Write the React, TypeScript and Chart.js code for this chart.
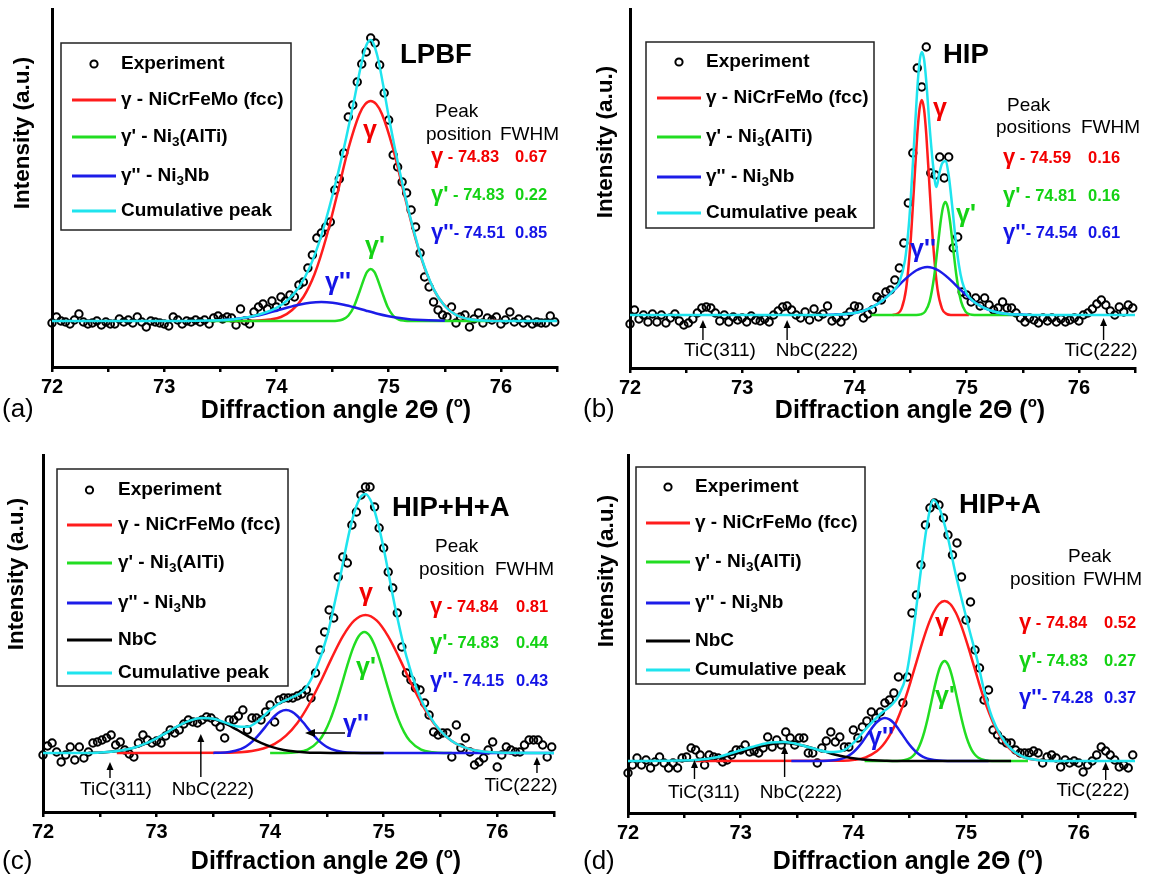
import React, { useEffect, useRef } from "react";
import { Chart, registerables } from "chart.js";
Chart.register(...registerables);

// ---------------- DATA ----------------
type Pt = [number, number];

// diffraction angles of the measured points (deg 2Theta)
const angles = [
  72.00, 72.04, 72.08, 72.12, 72.16, 72.20, 72.24, 72.28, 72.32, 72.36,
  72.40, 72.44, 72.48, 72.52, 72.56, 72.60, 72.64, 72.68, 72.72, 72.76,
  72.80, 72.84, 72.88, 72.92, 72.96, 73.00, 73.04, 73.08, 73.12, 73.16,
  73.20, 73.24, 73.28, 73.32, 73.36, 73.40, 73.44, 73.48, 73.52, 73.56,
  73.60, 73.64, 73.68, 73.72, 73.76, 73.80, 73.84, 73.88, 73.92, 73.96,
  74.00, 74.04, 74.08, 74.12, 74.16, 74.20, 74.24, 74.28, 74.32, 74.36,
  74.40, 74.44, 74.48, 74.52, 74.56, 74.60, 74.64, 74.68, 74.72, 74.76,
  74.80, 74.84, 74.88, 74.92, 74.96, 75.00, 75.04, 75.08, 75.12, 75.16,
  75.20, 75.24, 75.28, 75.32, 75.36, 75.40, 75.44, 75.48, 75.52, 75.56,
  75.60, 75.64, 75.68, 75.72, 75.76, 75.80, 75.84, 75.88, 75.92, 75.96,
  76.00, 76.04, 76.08, 76.12, 76.16, 76.20, 76.24, 76.28, 76.32, 76.36,
  76.40, 76.44, 76.48,
];

const tickLabels = [72, 73, 74, 75, 76];

// (a) LPBF – experiment intensities (a.u.)
const expA = [
  44, 50, 46, 45, 43, 47, 53, 45, 43, 44,
  46, 42, 45, 43, 43, 48, 45, 47, 44, 50,
  45, 40, 46, 45, 44, 43, 41, 50, 47, 43,
  46, 45, 47, 45, 47, 43, 49, 51, 48, 50,
  49, 42, 58, 46, 43, 55, 60, 63, 58, 66,
  60, 70, 66, 72, 70, 82, 85, 99, 112, 129,
  134, 140, 145, 177, 188, 214, 250, 262, 285, 303,
  315, 329, 324, 302, 274, 247, 212, 200, 185, 174,
  157, 140, 114, 90, 80, 65, 57, 52, 50, 60,
  44, 50, 52, 40, 48, 54, 44, 49, 47, 50,
  43, 47, 55, 45, 48, 44, 47, 43, 45, 44,
  44, 51, 45,
];
const cumA: Pt[] = [
  [72, 46], [73.2, 46], [73.4, 46.4], [73.6, 47.6], [73.8, 51.1], [74.0, 59.1], [74.1, 67], [74.2, 79.8],
  [74.3, 100.6], [74.4, 131.5], [74.5, 172], [74.6, 218.4], [74.7, 271.3], [74.75, 299.8], [74.8, 321.5],
  [74.84, 327], [74.9, 310.8], [74.95, 282.4], [75.0, 250.6], [75.1, 194.8], [75.2, 146.4], [75.3, 106.5],
  [75.4, 78.1], [75.5, 61], [75.6, 52.2], [75.7, 48.3], [75.8, 46.7], [76.0, 46], [76.5, 46],
];
const redA: Pt[] = [
  [73.6, 46], [73.84, 46.5], [73.94, 47.5], [74.04, 50], [74.14, 57], [74.24, 70], [74.34, 93], [74.44, 128],
  [74.54, 172], [74.64, 218], [74.74, 253], [74.79, 262.7], [74.84, 266], [74.89, 262.7], [74.94, 253],
  [75.04, 218], [75.14, 172], [75.24, 128], [75.34, 93], [75.44, 70], [75.54, 57], [75.64, 50], [75.74, 47.5],
  [75.84, 46.5], [76.0, 46],
];
const greenA: Pt[] = [
  [73.4, 46], [74.44, 46], [74.54, 46.3], [74.59, 47.5], [74.64, 51.3], [74.69, 60.3], [74.74, 75.3],
  [74.79, 91], [74.81, 95.4], [74.84, 98], [74.87, 95.4], [74.89, 91], [74.94, 75.3], [74.99, 60.3],
  [75.04, 51.3], [75.09, 47.5], [75.14, 46.3], [75.2, 46], [75.9, 46],
];
const blueA: Pt[] = [
  [73.5, 46.6], [73.6, 47.6], [73.7, 48.9], [73.8, 50.8], [73.9, 53.3], [74.0, 56.3], [74.1, 59.5], [74.2, 62.3],
  [74.3, 64.3], [74.4, 65], [74.5, 64.3], [74.6, 62.3], [74.7, 59.5], [74.8, 56.3], [74.9, 53.3], [75.0, 50.8],
  [75.1, 48.9], [75.2, 47.6], [75.3, 46.9], [75.5, 46.2],
];
const peakPosA = ["74.83", "74.83", "74.51"];
const fwhmA = ["0.67", "0.22", "0.85"];

// (b) HIP
const expB = [
  44, 58, 49, 53, 46, 54, 46, 53, 45, 50,
  54, 47, 43, 45, 49, 55, 60, 61, 60, 55,
  47, 53, 46, 51, 48, 50, 46, 52, 48, 47,
  49, 46, 53, 57, 61, 62, 58, 53, 50, 56,
  48, 59, 51, 54, 62, 47, 50, 46, 52, 56,
  62, 61, 50, 54, 58, 71, 68, 76, 78, 88,
  100, 125, 165, 215, 300, 281, 321, 195, 193, 211,
  190, 211, 120, 131, 76, 73, 66, 70, 62, 70,
  63, 58, 60, 66, 60, 60, 55, 50, 46, 50,
  48, 45, 50, 47, 50, 46, 49, 46, 48, 50,
  47, 53, 55, 59, 64, 68, 63, 57, 53, 61,
  56, 63, 60,
];
const cumB: Pt[] = [
  [72, 53], [73.6, 53], [73.75, 53.1], [73.95, 54.2], [74.05, 56.3], [74.15, 60.4], [74.25, 67.5],
  [74.35, 77.8], [74.4, 85.9], [74.45, 107.4], [74.48, 136.9], [74.5, 166.5], [74.53, 222.5], [74.56, 279.1],
  [74.58, 305.9], [74.6, 316], [74.62, 309], [74.64, 286.7], [74.67, 241], [74.7, 203.5], [74.73, 181],
  [74.76, 196.5], [74.78, 204.2], [74.81, 207], [74.84, 192.5], [74.87, 163], [74.9, 130.1], [74.93, 103.5],
  [74.96, 86.4], [75.0, 74.5], [75.05, 67.7], [75.15, 60.4], [75.25, 56.3], [75.35, 54.2], [75.45, 53.4],
  [75.6, 53], [76.5, 53],
];
const redB: Pt[] = [
  [74.34, 53.1], [74.38, 54.1], [74.42, 59.4], [74.46, 78.8], [74.5, 125.9], [74.53, 179.4], [74.56, 233.8],
  [74.58, 259], [74.6, 268], [74.62, 259], [74.64, 233.8], [74.67, 179.4], [74.7, 125.9], [74.74, 78.8],
  [74.78, 59.4], [74.82, 54.1], [74.86, 53.1], [75.02, 53],
];
const greenB: Pt[] = [
  [74.15, 53], [74.55, 53.1], [74.59, 53.6], [74.63, 56.4], [74.67, 66.6], [74.71, 91.3], [74.74, 119.4],
  [74.77, 148], [74.79, 161.3], [74.81, 166], [74.83, 161.3], [74.85, 148], [74.88, 119.4], [74.91, 91.3],
  [74.95, 66.6], [74.99, 56.4], [75.03, 53.6], [75.07, 53.1], [75.45, 53],
];
const blueB: Pt[] = [
  [73.75, 53.1], [73.85, 53.4], [73.95, 54.2], [74.05, 56.3], [74.15, 60.4], [74.25, 67.5], [74.35, 77.6],
  [74.45, 88.6], [74.55, 97.5], [74.65, 101], [74.75, 97.5], [74.85, 88.6], [74.95, 77.6], [75.05, 67.5],
  [75.15, 60.4], [75.25, 56.3], [75.35, 54.2], [75.45, 53.4], [75.55, 53.1],
];
const peakPosB = ["74.59", "74.81", "74.54"];
const fwhmB = ["0.16", "0.16", "0.61"];

// (c) HIP+H+A
const expC = [
  57, 66, 69, 60, 50, 57, 65, 52, 65, 54,
  60, 69, 70, 72, 74, 77, 67, 70, 62, 58,
  55, 69, 77, 72, 69, 71, 69, 76, 82, 79,
  82, 88, 92, 90, 89, 92, 95, 94, 90, 85,
  74, 92, 92, 96, 102, 82, 94, 94, 92, 100,
  107, 90, 112, 114, 114, 114, 116, 118, 122, 114,
  139, 162, 180, 202, 194, 235, 255, 249, 287, 300,
  317, 325, 325, 305, 284, 264, 240, 224, 199, 165,
  139, 132, 124, 122, 109, 97, 80, 77, 79, 79,
  55, 87, 64, 74, 60, 47, 50, 54, 62, 70,
  45, 57, 65, 62, 60, 60, 67, 72, 72, 72,
  67, 55, 65,
];
const cumC: Pt[] = [
  [72, 59], [72.4, 59], [72.5, 59.5], [72.6, 60.3], [72.7, 61.8], [72.8, 64.3], [72.9, 68.3], [73.0, 73.7],
  [73.1, 80.2], [73.2, 86.6], [73.3, 91.6], [73.4, 94], [73.5, 93.2], [73.6, 89.6], [73.7, 85.8], [73.8, 85.2],
  [73.9, 91.6], [74.0, 102], [74.1, 110], [74.2, 115], [74.3, 122], [74.4, 142], [74.5, 175.2], [74.6, 225.8],
  [74.7, 281.4], [74.75, 302.7], [74.8, 315.5], [74.84, 318], [74.9, 307.8], [74.95, 288.6], [75.0, 263.6],
  [75.1, 205.3], [75.2, 155.8], [75.3, 120.5], [75.4, 96.9], [75.5, 81.1], [75.6, 71.1], [75.7, 65.1],
  [75.8, 61.8], [75.9, 60.2], [76.0, 59.5], [76.5, 59],
];
const redC: Pt[] = [
  [72.65, 59], [73.64, 59.3], [73.74, 59.8], [73.84, 61], [73.94, 63.5], [74.04, 68.2], [74.14, 76.4],
  [74.24, 89.1], [74.34, 107], [74.44, 129.2], [74.54, 153.4], [74.64, 175.6], [74.74, 191.3], [74.84, 197],
  [74.94, 191.3], [75.04, 175.6], [75.14, 153.4], [75.24, 129.2], [75.34, 107], [75.44, 89.1], [75.54, 76.4],
  [75.64, 68.2], [75.74, 63.5], [75.84, 61], [75.94, 59.8], [76.04, 59.3], [76.2, 59],
];
const greenC: Pt[] = [
  [74.0, 59], [74.13, 59], [74.23, 59.7], [74.33, 62.4], [74.43, 71.2], [74.48, 79.9], [74.53, 92.4],
  [74.58, 108.5], [74.63, 127.2], [74.68, 146.7], [74.73, 163.9], [74.78, 175.8], [74.83, 180], [74.88, 175.8],
  [74.93, 163.9], [74.98, 146.7], [75.03, 127.2], [75.08, 108.5], [75.13, 92.4], [75.18, 79.9], [75.23, 71.2],
  [75.33, 62.4], [75.43, 59.7], [75.53, 59], [75.6, 59],
];
const blueC: Pt[] = [
  [73.5, 59.1], [73.54, 59.2], [73.64, 60], [73.74, 62.9], [73.79, 65.8], [73.84, 70.1], [73.89, 75.9],
  [73.94, 82.6], [73.99, 89.7], [74.04, 96], [74.09, 100.4], [74.14, 102], [74.19, 100.4], [74.24, 96],
  [74.29, 89.7], [74.34, 82.6], [74.39, 75.9], [74.44, 70.1], [74.49, 65.8], [74.54, 62.9], [74.64, 60],
  [74.74, 59.2], [74.9, 59], [76.5, 59],
];
const blackC: Pt[] = [
  [72.4, 59.2], [72.52, 59.6], [72.62, 60.5], [72.72, 62.1], [72.82, 64.9], [72.92, 69.2], [73.02, 74.9],
  [73.12, 81.5], [73.22, 87.7], [73.32, 92.3], [73.42, 94], [73.52, 92.3], [73.62, 87.7], [73.72, 81.5],
  [73.82, 74.9], [73.92, 69.2], [74.02, 64.9], [74.12, 62.1], [74.22, 60.5], [74.32, 59.6], [74.42, 59.3],
  [74.6, 59], [75.0, 59],
];
const peakPosC = ["74.84", "74.83", "74.15"];
const fwhmC = ["0.81", "0.44", "0.43"];

// (d) HIP+A
const expD = [
  40, 48, 55, 48, 53, 45, 51, 56, 50, 45,
  50, 45, 55, 56, 65, 63, 58, 48, 58, 56,
  55, 51, 53, 58, 63, 63, 68, 61, 62, 60,
  65, 76, 66, 73, 68, 81, 75, 68, 75, 75,
  60, 60, 50, 65, 72, 81, 71, 76, 66, 66,
  83, 75, 86, 92, 101, 95, 101, 110, 113, 120,
  136, 110, 136, 200, 218, 248, 288, 305, 310, 308,
  295, 278, 258, 270, 236, 193, 211, 163, 145, 113,
  123, 83, 78, 73, 70, 70, 63, 60, 60, 60,
  62, 60, 50, 56, 58, 55, 46, 53, 50, 52,
  50, 41, 48, 52, 58, 66, 62, 58, 53, 46,
  48, 45, 58,
];
const cumD: Pt[] = [
  [72, 52], [72.6, 53], [72.8, 56], [72.95, 61], [73.1, 66], [73.24, 70], [73.39, 71], [73.5, 69],
  [73.63, 65], [73.79, 61], [73.9, 62], [74.0, 70], [74.11, 84], [74.24, 99], [74.34, 108], [74.4, 117],
  [74.47, 138], [74.53, 180], [74.6, 243], [74.65, 285], [74.71, 313], [74.77, 303], [74.84, 275],
  [74.9, 243], [74.97, 210], [75.03, 183], [75.1, 153], [75.16, 123], [75.23, 96], [75.31, 77],
  [75.4, 64], [75.5, 56.5], [75.63, 53], [75.8, 52], [76.5, 52],
];
const redD: Pt[] = [
  [72.6, 52], [73.91, 52.3], [74.01, 53.2], [74.11, 55.7], [74.21, 62], [74.26, 67.5], [74.31, 75.4],
  [74.36, 85.6], [74.41, 98.7], [74.46, 114.2], [74.51, 132], [74.56, 150.9], [74.61, 169.6], [74.66, 186.6],
  [74.71, 200.2], [74.76, 209], [74.81, 212], [74.86, 209], [74.91, 200.2], [74.96, 186.6], [75.01, 169.6],
  [75.06, 150.9], [75.11, 132], [75.16, 114.2], [75.21, 98.7], [75.26, 85.6], [75.31, 75.4], [75.36, 67.5],
  [75.41, 62], [75.51, 55.7], [75.61, 53.2], [75.71, 52.3],
];
const greenD: Pt[] = [
  [74.1, 52], [74.39, 52.1], [74.45, 52.7], [74.51, 55.3], [74.54, 58.3], [74.57, 63.2], [74.6, 70.7],
  [74.63, 81.2], [74.66, 94.5], [74.69, 109.8], [74.72, 125.5], [74.75, 139.2], [74.78, 148.6], [74.81, 152],
  [74.84, 148.6], [74.87, 139.2], [74.9, 125.5], [74.93, 109.8], [74.96, 94.5], [74.99, 81.2], [75.02, 70.7],
  [75.05, 63.2], [75.08, 58.3], [75.11, 55.3], [75.17, 52.7], [75.23, 52.1], [75.55, 52],
];
const blueD: Pt[] = [
  [73.45, 52], [73.72, 52.1], [73.8, 52.4], [73.88, 53.7], [73.92, 55.1], [73.96, 57.4], [74.0, 60.8],
  [74.04, 65.4], [74.08, 71.1], [74.12, 77.6], [74.16, 84.1], [74.2, 89.8], [74.24, 93.6], [74.28, 95],
  [74.32, 93.6], [74.36, 89.8], [74.4, 84.1], [74.44, 77.6], [74.48, 71.1], [74.52, 65.4], [74.56, 60.8],
  [74.6, 57.4], [74.64, 55.1], [74.68, 53.7], [74.76, 52.4], [74.84, 52.1], [75.2, 52],
];
const blackD: Pt[] = [
  [72.4, 52], [72.48, 52.3], [72.58, 52.8], [72.68, 53.6], [72.78, 55.1], [72.88, 57.2], [72.98, 60.2],
  [73.08, 63.6], [73.18, 66.8], [73.28, 69.1], [73.38, 70], [73.48, 69.1], [73.58, 66.8], [73.68, 63.6],
  [73.78, 60.2], [73.88, 57.2], [73.98, 55.1], [74.08, 53.6], [74.18, 52.8], [74.28, 52.3], [74.38, 52],
  [75.4, 52],
];
const peakPosD = ["74.84", "74.83", "74.28"];
const fwhmD = ["0.52", "0.27", "0.37"];

// ---------------- STYLE / LAYOUT ----------------
const FAMILY = '"Liberation Sans", Arial, Helvetica, sans-serif';
const RED = "#ff1c1c";
const GREEN = "#22dd22";
const BLUE = "#1c1ce8";
const CYAN = "#1fe4ee";
const T_RED = "#f20000";
const T_GREEN = "#14d214";
const T_BLUE = "#1414e6";

type Seg = { t: string; s: number; b?: boolean; dy?: number; c?: string };

interface Note { t: string; ax: number; tip: number; tail: number; lx: number; ly: number }
interface Panel {
  key: string;
  box: [number, number, number, number];
  plot: [number, number, number, number];
  ymax: number;
  exp: number[];
  cum: Pt[]; red: Pt[]; green: Pt[]; blue: Pt[]; black?: Pt[];
  letter: string; letterPos: [number, number];
  yTitlePos: [number, number]; xTitlePos: [number, number];
  title: string; titlePos: [number, number];
  legendBox: [number, number, number, number];
  legendRows: number[]; legendLineX: [number, number]; legendTextX: number;
  peakWord: [number, number]; posWord: [string, number, number]; fwhmWord: [number, number];
  rowsY: number[]; tableX: [number, number]; syms: string[]; seps: string[];
  pos: string[]; fwhm: string[];
  labels: { t: string; x: number; y: number; c: string }[];
  notes: Note[];
  hArrow?: [number, number, number];
}

const panels: Panel[] = [
  {
    key: "a", box: [0, 0, 578, 438], plot: [52, 9, 557, 367], ymax: 358,
    exp: expA, cum: cumA, red: redA, green: greenA, blue: blueA,
    letter: "(a)", letterPos: [2, 410], yTitlePos: [23, 133], xTitlePos: [336, 411],
    title: "LPBF", titlePos: [400, 55],
    legendBox: [61, 43, 291, 230], legendRows: [64, 100, 137, 176, 211], legendLineX: [72, 116], legendTextX: 121,
    peakWord: [435, 112], posWord: ["position", 426, 135], fwhmWord: [500, 135],
    rowsY: [157, 195, 233], tableX: [431, 515], syms: ["γ", "γ'", "γ''"], seps: [" - ", " - ", "- "],
    pos: peakPosA, fwhm: fwhmA,
    labels: [
      { t: "γ", x: 370, y: 131, c: T_RED },
      { t: "γ'", x: 375, y: 247, c: T_GREEN },
      { t: "γ''", x: 338, y: 283, c: T_BLUE },
    ],
    notes: [],
  },
  {
    key: "b", box: [578, 0, 571, 438], plot: [630, 9, 1135, 368], ymax: 359,
    exp: expB, cum: cumB, red: redB, green: greenB, blue: blueB,
    letter: "(b)", letterPos: [583, 410], yTitlePos: [606, 142], xTitlePos: [910, 411],
    title: "HIP", titlePos: [943, 55],
    legendBox: [646, 42, 874, 228], legendRows: [62, 98, 137, 177, 213], legendLineX: [657, 701], legendTextX: 706,
    peakWord: [1007, 106], posWord: ["positions", 996, 128], fwhmWord: [1081, 128],
    rowsY: [158, 196, 233], tableX: [1003, 1088], syms: ["γ", "γ'", "γ''"], seps: [" - ", " - ", "- "],
    pos: peakPosB, fwhm: fwhmB,
    labels: [
      { t: "γ", x: 940, y: 109, c: T_RED },
      { t: "γ'", x: 966, y: 215, c: T_GREEN },
      { t: "γ''", x: 923, y: 250, c: T_BLUE },
    ],
    notes: [
      { t: "TiC(311)", ax: 72.65, tip: 320, tail: 340, lx: 720, ly: 351 },
      { t: "NbC(222)", ax: 73.4, tip: 320, tail: 340, lx: 817, ly: 351 },
      { t: "TiC(222)", ax: 76.22, tip: 318, tail: 340, lx: 1101, ly: 351 },
    ],
  },
  {
    key: "c", box: [0, 438, 578, 438], plot: [43, 455, 554, 812], ymax: 357,
    exp: expC, cum: cumC, red: redC, green: greenC, blue: blueC, black: blackC,
    letter: "(c)", letterPos: [2, 862], yTitlePos: [17, 574], xTitlePos: [326, 862],
    title: "HIP+H+A", titlePos: [392, 508],
    legendBox: [57, 469, 288, 686], legendRows: [490, 525, 563, 603, 640, 673], legendLineX: [67, 112], legendTextX: 118,
    peakWord: [435, 547], posWord: ["position", 419, 570], fwhmWord: [495, 570],
    rowsY: [607, 643, 681], tableX: [430, 516], syms: ["γ", "γ'", "γ''"], seps: [" - ", "- ", "- "],
    pos: peakPosC, fwhm: fwhmC,
    labels: [
      { t: "γ", x: 366, y: 594, c: T_RED },
      { t: "γ'", x: 366, y: 668, c: T_GREEN },
      { t: "γ''", x: 356, y: 725, c: T_BLUE },
    ],
    notes: [
      { t: "TiC(311)", ax: 72.59, tip: 762, tail: 778, lx: 116, ly: 790 },
      { t: "NbC(222)", ax: 73.39, tip: 734, tail: 777, lx: 213, ly: 790 },
      { t: "TiC(222)", ax: 76.35, tip: 757, tail: 773, lx: 521, ly: 786 },
    ],
    hArrow: [345, 305, 733],
  },
  {
    key: "d", box: [578, 438, 571, 438], plot: [628, 455, 1135, 813], ymax: 358,
    exp: expD, cum: cumD, red: redD, green: greenD, blue: blueD, black: blackD,
    letter: "(d)", letterPos: [583, 862], yTitlePos: [607, 571], xTitlePos: [908, 862],
    title: "HIP+A", titlePos: [959, 505],
    legendBox: [636, 467, 865, 684], legendRows: [487, 523, 562, 603, 641, 670], legendLineX: [646, 690], legendTextX: 695,
    peakWord: [1068, 557], posWord: ["position", 1010, 580], fwhmWord: [1083, 580],
    rowsY: [623, 661, 698], tableX: [1019, 1104], syms: ["γ", "γ'", "γ''"], seps: [" - ", "- ", "- "],
    pos: peakPosD, fwhm: fwhmD,
    labels: [
      { t: "γ", x: 942, y: 624, c: T_RED },
      { t: "γ'", x: 945, y: 697, c: T_GREEN },
      { t: "γ''", x: 881, y: 738, c: T_BLUE },
    ],
    notes: [
      { t: "TiC(311)", ax: 72.59, tip: 760, tail: 779, lx: 704, ly: 793 },
      { t: "NbC(222)", ax: 73.39, tip: 746, tail: 777, lx: 801, ly: 793 },
      { t: "TiC(222)", ax: 76.24, tip: 762, tail: 780, lx: 1093, ly: 791 },
    ],
  },
];

// ---------------- DRAWING HELPERS ----------------
function fnt(s: number, b?: boolean) {
  return `${b ? "bold " : ""}${s}px ${FAMILY}`;
}

function rich(ctx: CanvasRenderingContext2D, x: number, y: number, segs: Seg[], align = "left", color = "#000") {
  let total = 0;
  const ws = segs.map((sg) => {
    ctx.font = fnt(sg.s, sg.b);
    const w = ctx.measureText(sg.t).width;
    total += w;
    return w;
  });
  let cx = align === "center" ? x - total / 2 : x;
  ctx.textAlign = "left";
  ctx.textBaseline = "middle";
  segs.forEach((sg, i) => {
    ctx.font = fnt(sg.s, sg.b);
    ctx.fillStyle = sg.c || color;
    ctx.fillText(sg.t, cx, y + (sg.dy || 0));
    cx += ws[i];
  });
}

function arrowUp(ctx: CanvasRenderingContext2D, x: number, tip: number, tail: number) {
  ctx.strokeStyle = "#000";
  ctx.lineWidth = 1.4;
  ctx.beginPath();
  ctx.moveTo(x, tail);
  ctx.lineTo(x, tip + 6);
  ctx.stroke();
  ctx.fillStyle = "#000";
  ctx.beginPath();
  ctx.moveTo(x, tip);
  ctx.lineTo(x - 3.5, tip + 8);
  ctx.lineTo(x + 3.5, tip + 8);
  ctx.closePath();
  ctx.fill();
}

const LS = 19;
const legendEntries = (hasNbC: boolean) => {
  const e: { color: string | null; segs: Seg[] }[] = [
    { color: null, segs: [{ t: "Experiment", s: LS, b: true }] },
    { color: RED, segs: [{ t: "γ - NiCrFeMo (fcc)", s: LS, b: true }] },
    { color: GREEN, segs: [{ t: "γ' - Ni", s: LS, b: true }, { t: "3", s: 13.5, b: true, dy: 5 }, { t: "(AlTi)", s: LS, b: true }] },
    { color: BLUE, segs: [{ t: "γ'' - Ni", s: LS, b: true }, { t: "3", s: 13.5, b: true, dy: 5 }, { t: "Nb", s: LS, b: true }] },
  ];
  if (hasNbC) e.push({ color: "#000", segs: [{ t: "NbC", s: LS, b: true }] });
  e.push({ color: CYAN, segs: [{ t: "Cumulative peak", s: LS, b: true }] });
  return e;
};

function drawTexts(chart: any, p: Panel) {
  const ctx: CanvasRenderingContext2D = chart.ctx;
  const ox = p.box[0];
  const oy = p.box[1];
  ctx.save();
  ctx.translate(-ox, -oy);

  // y title
  ctx.save();
  ctx.translate(p.yTitlePos[0], p.yTitlePos[1]);
  ctx.rotate(-Math.PI / 2);
  rich(ctx, 0, 0, [{ t: "Intensity (a.u.)", s: 22.5, b: true }], "center");
  ctx.restore();

  // x title
  rich(ctx, p.xTitlePos[0], p.xTitlePos[1], [
    { t: "Diffraction angle 2Θ (", s: 25, b: true },
    { t: "o", s: 15, b: true, dy: -8 },
    { t: ")", s: 25, b: true },
  ], "center");

  // panel letter, sample title
  rich(ctx, p.letterPos[0], p.letterPos[1], [{ t: p.letter, s: 26 }]);
  rich(ctx, p.titlePos[0], p.titlePos[1], [{ t: p.title, s: 27.5, b: true }]);

  // legend
  const [bx1, by1, bx2, by2] = p.legendBox;
  ctx.strokeStyle = "#222";
  ctx.lineWidth = 1.5;
  ctx.strokeRect(bx1, by1, bx2 - bx1, by2 - by1);
  const entries = legendEntries(!!p.black);
  entries.forEach((en, i) => {
    const y = p.legendRows[i];
    if (en.color) {
      ctx.strokeStyle = en.color;
      ctx.lineWidth = 3;
      ctx.beginPath();
      ctx.moveTo(p.legendLineX[0], y);
      ctx.lineTo(p.legendLineX[1], y);
      ctx.stroke();
    } else {
      ctx.strokeStyle = "#000";
      ctx.lineWidth = 2;
      ctx.beginPath();
      ctx.arc((p.legendLineX[0] + p.legendLineX[1]) / 2, y, 3.6, 0, Math.PI * 2);
      ctx.stroke();
    }
    rich(ctx, p.legendTextX, y, en.segs);
  });

  // peak table
  rich(ctx, p.peakWord[0], p.peakWord[1], [{ t: "Peak", s: 19 }]);
  rich(ctx, p.posWord[1], p.posWord[2], [{ t: p.posWord[0], s: 19 }]);
  rich(ctx, p.fwhmWord[0], p.fwhmWord[1], [{ t: "FWHM", s: 19 }]);
  const tcol = [T_RED, T_GREEN, T_BLUE];
  p.rowsY.forEach((y, i) => {
    rich(ctx, p.tableX[0], y, [
      { t: p.syms[i], s: 22, b: true, c: tcol[i] },
      { t: p.seps[i] + p.pos[i], s: 16.5, b: true, c: tcol[i] },
    ]);
    rich(ctx, p.tableX[1], y, [{ t: p.fwhm[i], s: 16.5, b: true, c: tcol[i] }]);
  });

  // component labels
  p.labels.forEach((l) => rich(ctx, l.x, l.y, [{ t: l.t, s: 25, b: true, c: l.c }], "center"));

  // phase annotations
  const xs = chart.scales.x;
  p.notes.forEach((n) => {
    const px = xs.getPixelForValue(n.ax) + ox;
    arrowUp(ctx, px, n.tip, n.tail);
    rich(ctx, n.lx, n.ly, [{ t: n.t, s: 19 }], "center");
  });

  if (p.hArrow) {
    const [x1, x2, y] = p.hArrow;
    ctx.strokeStyle = "#000";
    ctx.lineWidth = 1.6;
    ctx.beginPath();
    ctx.moveTo(x1, y);
    ctx.lineTo(x2 + 7, y);
    ctx.stroke();
    ctx.fillStyle = "#000";
    ctx.beginPath();
    ctx.moveTo(x2, y);
    ctx.lineTo(x2 + 10, y - 4);
    ctx.lineTo(x2 + 10, y + 4);
    ctx.closePath();
    ctx.fill();
  }

  ctx.restore();
}

function curve(data: Pt[], color: string) {
  return {
    data: data.map(([x, y]) => ({ x, y })),
    borderColor: color,
    backgroundColor: color,
    borderWidth: 2.5,
    pointRadius: 0,
    fill: false,
    showLine: true,
    cubicInterpolationMode: "monotone" as const,
  };
}

function buildConfig(p: Panel): any {
  const L = p.plot[0] - p.box[0];
  const T = p.plot[1] - p.box[1];
  const R = p.box[0] + p.box[2] - p.plot[2];
  const B = p.box[1] + p.box[3] - p.plot[3];
  const datasets: any[] = [curve(p.cum, CYAN)];
  if (p.black) datasets.push(curve(p.black, "#000"));
  datasets.push(curve(p.blue, BLUE));
  datasets.push(curve(p.green, GREEN));
  datasets.push(curve(p.red, RED));
  datasets.push({
    data: angles.map((x, i) => ({ x, y: p.exp[i] })),
    showLine: false,
    pointRadius: 3.7,
    pointBorderWidth: 2,
    pointBorderColor: "#000",
    pointBackgroundColor: "rgba(0,0,0,0)",
    borderColor: "#000",
    clip: false,
  });
  return {
    type: "line",
    data: { datasets },
    options: {
      animation: false,
      responsive: false,
      maintainAspectRatio: false,
      devicePixelRatio: 1,
      events: [],
      layout: { padding: { left: 0, right: R, top: T, bottom: 0 } },
      plugins: { legend: { display: false }, tooltip: { enabled: false }, title: { display: false } },
      scales: {
        x: {
          type: "linear",
          min: 72,
          max: 76.5,
          afterFit: (s: any) => { s.height = B; },
          ticks: {
            stepSize: 0.5,
            autoSkip: false,
            maxRotation: 0,
            padding: 3,
            color: "#000",
            font: { family: FAMILY, size: 20, weight: "bold" },
            callback: (v: number) => {
              const r = Math.round(v);
              return Math.abs(v - r) < 1e-6 && tickLabels.includes(r) ? String(r) : "";
            },
          },
          grid: { display: true, drawOnChartArea: false, drawTicks: true, tickLength: 5, color: "#000", lineWidth: 2.5 },
          border: { display: true, color: "#000", width: 3 },
        },
        y: {
          type: "linear",
          min: 0,
          max: p.ymax,
          afterFit: (s: any) => { s.width = L; },
          ticks: { display: false },
          grid: { display: false },
          border: { display: true, color: "#000", width: 3 },
        },
      },
    },
    plugins: [{ id: "texts" + p.key, afterDraw: (chart: any) => drawTexts(chart, p) }],
  };
}

function PanelChart({ p }: { p: Panel }) {
  const ref = useRef<HTMLCanvasElement>(null);
  useEffect(() => {
    if (!ref.current) return;
    const chart = new Chart(ref.current, buildConfig(p));
    return () => chart.destroy();
  }, [p]);
  return (
    <canvas
      ref={ref}
      width={p.box[2]}
      height={p.box[3]}
      style={{ position: "absolute", left: p.box[0], top: p.box[1], width: p.box[2], height: p.box[3] }}
    />
  );
}

export default function App() {
  return (
    <div style={{ position: "absolute", left: 0, top: 0, width: 1149, height: 876, background: "#fff", overflow: "hidden" }}>
      {panels.map((p) => (
        <PanelChart key={p.key} p={p} />
      ))}
    </div>
  );
}
